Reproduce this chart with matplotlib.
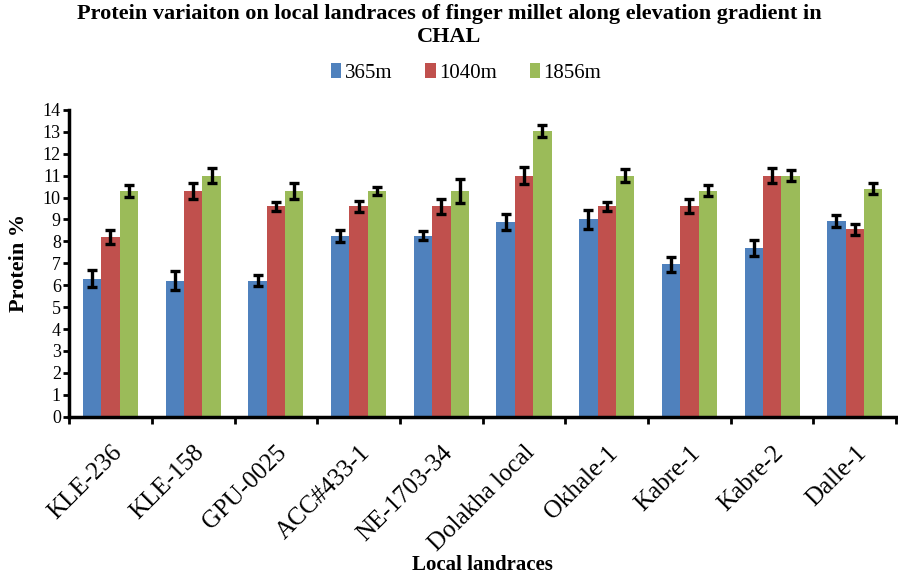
import numpy as np
import matplotlib
matplotlib.use("Agg")
import matplotlib.pyplot as plt

categories = ["KLE-236", "KLE-158", "GPU-0025", "ACC#433-1", "NE-1703-34",
              "Dolakha local", "Okhale-1", "Kabre-1", "Kabre-2", "Dalle-1"]
series_names = ["365m", "1040m", "1856m"]
v365 = [6.3, 6.2, 6.2, 8.25, 8.25, 8.9, 9.0, 6.95, 7.7, 8.93]
v1040 = [8.2, 10.3, 9.6, 9.6, 9.6, 11.0, 9.6, 9.6, 11.0, 8.55]
v1856 = [10.3, 11.0, 10.3, 10.3, 10.3, 13.05, 11.0, 10.3, 11.0, 10.4]
e365 = [0.4, 0.44, 0.25, 0.29, 0.21, 0.37, 0.44, 0.33, 0.37, 0.26]
e1040 = [0.3, 0.35, 0.21, 0.25, 0.33, 0.37, 0.21, 0.31, 0.33, 0.24]
e1856 = [0.29, 0.33, 0.35, 0.2, 0.56, 0.28, 0.29, 0.25, 0.25, 0.24]
colors = ["#4F81BD", "#C0504D", "#9BBB59"]

plt.rcParams['font.family'] = ['Liberation Serif', 'DejaVu Serif']

fig = plt.figure(figsize=(8.98, 5.78), dpi=100)
ax = fig.add_axes([0.077, 0.279, 0.921, 0.531])

x = np.arange(len(categories))
w = 0.222
for i, (vals, errs) in enumerate(zip([v365, v1040, v1856], [e365, e1040, e1856])):
    ax.bar(x + (i - 1) * w, vals, width=w, color=colors[i], label=series_names[i],
           yerr=errs, error_kw=dict(ecolor='black', elinewidth=2.4, capsize=3.5, capthick=2.4),
           zorder=2)

ax.set_xlim(-0.5, len(categories) - 0.5)
ax.set_ylim(0, 14)
ax.set_yticks(range(0, 15))
ax.tick_params(axis='y', labelsize=13, width=2, length=4, direction='out', pad=2)
ax.set_xticks(x)
ax.set_xticklabels(categories, rotation=45, ha='right', rotation_mode='anchor', fontsize=18)
ax.tick_params(axis='x', which='major', length=0, pad=18)
ax.set_xticks(np.arange(-0.5, len(categories), 1.0), minor=True)
ax.tick_params(axis='x', which='minor', length=5, width=2, direction='out')
for s in ['top', 'right']:
    ax.spines[s].set_visible(False)
for s in ['left', 'bottom']:
    ax.spines[s].set_linewidth(2.5)

ax.set_ylabel("Protein %", fontsize=16, fontweight='bold', labelpad=10)
ax.set_xlabel("Local landraces", fontsize=15, fontweight='bold')
ax.xaxis.set_label_coords(0.5, -0.45)

fig.text(0.5, 0.993, "Protein variaiton on local landraces of finger millet along elevation gradient in\nCHAL",
         ha='center', va='top', fontsize=16, fontweight='bold', linespacing=1.2)

ax.legend(loc='center', bbox_to_anchor=(0.48, 1.12), ncol=3, frameon=False, fontsize=15,
          handlelength=0.5, handleheight=0.7, handletextpad=0.15, columnspacing=1.6)

fig.savefig("out.png", dpi=100)
